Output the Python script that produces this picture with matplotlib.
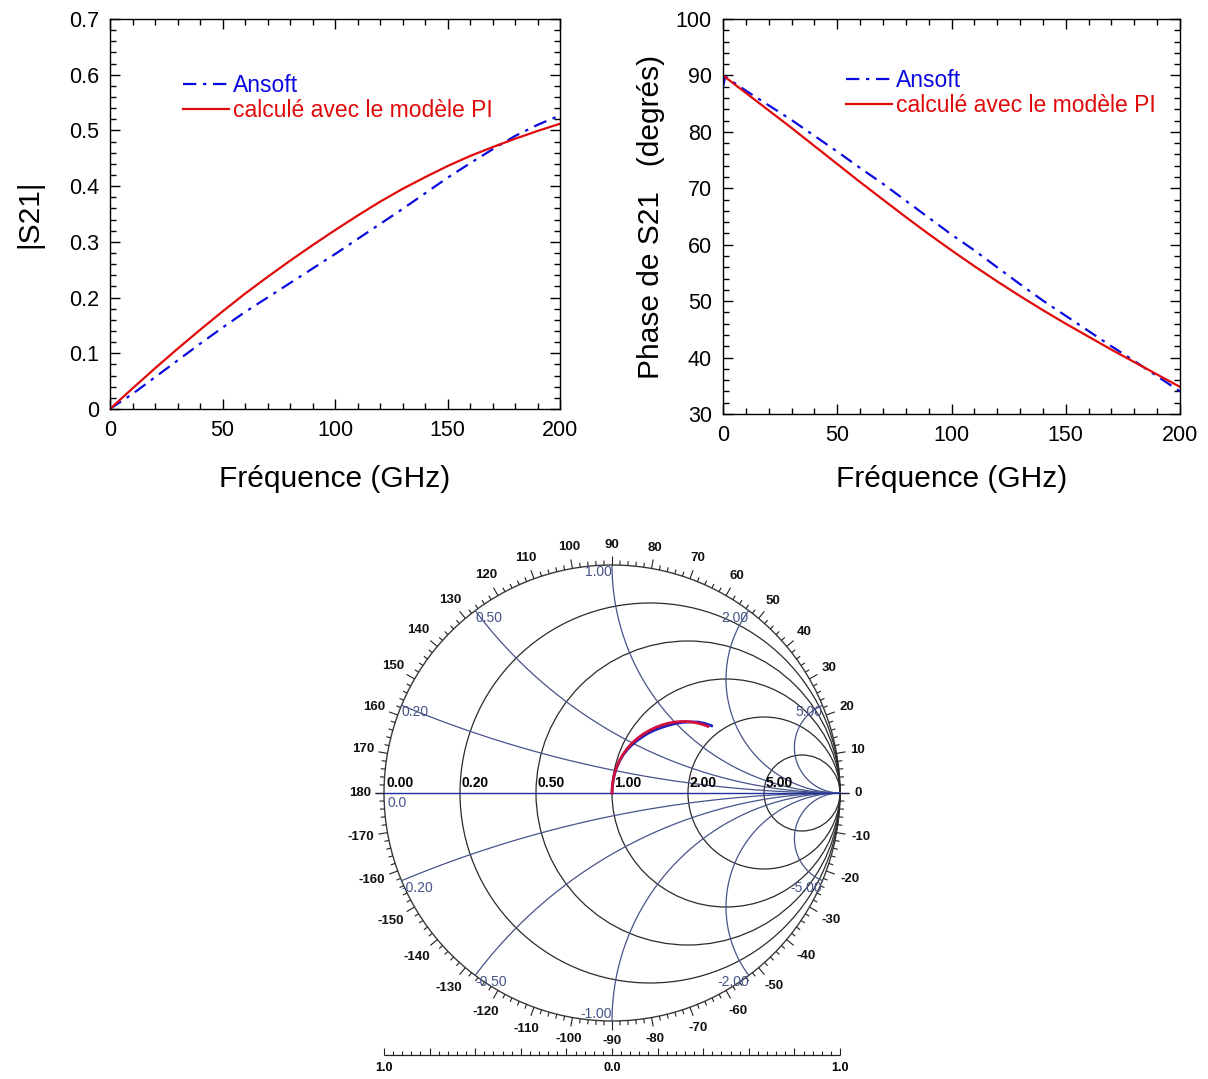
import numpy as np
import matplotlib.pyplot as plt
from matplotlib.patches import Circle
from matplotlib.collections import LineCollection
from matplotlib.ticker import MultipleLocator, FormatStrFormatter

plt.rcParams['font.family'] = ['Liberation Sans', 'DejaVu Sans']

# Données
freq = [0, 10, 20, 30, 40, 50, 60, 70, 80, 90, 100,
        110, 120, 130, 140, 150, 160, 170, 180, 190, 200]
freq_ansoft = [0, 1, 10, 20, 30, 40, 50, 60, 70, 80, 90, 100,
               110, 120, 130, 140, 150, 160, 170, 180, 190, 200]

mag_pi = [0, 0.037, 0.073, 0.108, 0.142, 0.175, 0.207, 0.237, 0.266, 0.294, 0.321,
          0.347, 0.372, 0.395, 0.416, 0.436, 0.454, 0.470, 0.485, 0.499, 0.512]
mag_ansoft = [0, 0.003, 0.027, 0.057, 0.087, 0.117, 0.146, 0.174, 0.200, 0.226, 0.252, 0.278,
              0.305, 0.332, 0.359, 0.387, 0.415, 0.441, 0.466, 0.490, 0.510, 0.527]

phase_pi = [90.0, 86.9, 83.8, 80.7, 77.5, 74.3, 71.1, 68.0, 64.9, 61.9, 59.0,
            56.2, 53.5, 50.9, 48.4, 46.0, 43.7, 41.4, 39.2, 37.0, 34.8]
phase_ansoft = [88.0, 89.8, 87.3, 84.7, 82.1, 79.3, 76.5, 73.6, 70.8, 67.8, 64.8, 61.8,
                59.0, 56.0, 53.0, 50.1, 47.4, 44.7, 42.0, 39.4, 36.7, 34.0]

label_ansoft = 'Ansoft'
label_pi = 'calculé avec le modèle PI'

# Abaque de Smith
r_values = [0.2, 0.5, 1.0, 2.0, 5.0]
r_labels = ['0.20', '0.50', '1.00', '2.00', '5.00']
x_values = [0.2, 0.5, 1.0, 2.0, 5.0, -0.2, -0.5, -1.0, -2.0, -5.0]
x_labels = ['0.20', '0.50', '1.00', '2.00', '5.00',
            '-0.20', '-0.50', '-1.00', '-2.00', '-5.00']
x_label_align = [('left', 'top'), ('left', 'top'), ('right', 'top'), ('right', 'top'), ('right', 'top'),
                 ('left', 'top'), ('left', 'top'), ('right', 'bottom'), ('right', 'top'), ('right', 'top')]
angle_labels = [-170, -160, -150, -140, -130, -120, -110, -100, -90, -80, -70, -60, -50,
                -40, -30, -20, -10, 0, 10, 20, 30, 40, 50, 60, 70, 80, 90, 100, 110,
                120, 130, 140, 150, 160, 170, 180]
scale_labels = ['1.0', '0.0', '1.0']

blue = '#0a0ae0'
red = '#e10a0a'
grid_r = '#2b2b2b'
grid_x = '#465489'
axis_blue = '#1f2f9f'

W, H = 1208, 1079
fig = plt.figure(figsize=(W / 100, H / 100), dpi=100)


def px_axes(x0, y0, x1, y1):
    return [x0 / W, 1 - y1 / H, (x1 - x0) / W, (y1 - y0) / H]


def style(ax):
    ax.tick_params(which='both', direction='in', top=True, right=True,
                   labelsize=15.5, width=1)
    ax.tick_params(which='major', length=7, pad=8)
    ax.tick_params(which='minor', length=4)
    ax.xaxis.set_major_locator(MultipleLocator(50))
    ax.xaxis.set_minor_locator(MultipleLocator(10))
    ax.set_xlim(0, 200)
    for s in ax.spines.values():
        s.set_linewidth(1)


dashdot = (0, (6, 3, 1.5, 3))

# |S21|
ax1 = fig.add_axes(px_axes(110, 19, 560, 409))
ax1.plot(freq_ansoft, mag_ansoft, color=blue, lw=1.6, linestyle=dashdot, label=label_ansoft)
ax1.plot(freq, mag_pi, color=red, lw=1.6, label=label_pi)
style(ax1)
ax1.set_ylim(0, 0.7)
ax1.yaxis.set_major_locator(MultipleLocator(0.1))
ax1.yaxis.set_minor_locator(MultipleLocator(0.02))
ax1.yaxis.set_major_formatter(FormatStrFormatter('%g'))
ax1.set_xlabel('Fréquence (GHz)', fontsize=21.5, labelpad=17)
ax1.set_ylabel('|S21|', fontsize=21.5, labelpad=18)
leg1 = ax1.legend(loc='upper left', bbox_to_anchor=(0.162, 0.858), frameon=False,
                  fontsize=16.5, handlelength=2.0, handletextpad=0.2,
                  labelspacing=0.08, borderpad=0, borderaxespad=0)
for t, c in zip(leg1.get_texts(), [blue, red]):
    t.set_color(c)

# Phase de S21
ax2 = fig.add_axes(px_axes(723, 19, 1180, 414))
ax2.plot(freq_ansoft, phase_ansoft, color=blue, lw=1.6, linestyle=dashdot, label=label_ansoft)
ax2.plot(freq, phase_pi, color=red, lw=1.6, label=label_pi)
style(ax2)
ax2.set_ylim(30, 100)
ax2.yaxis.set_major_locator(MultipleLocator(10))
ax2.yaxis.set_minor_locator(MultipleLocator(2))
ax2.set_xlabel('Fréquence (GHz)', fontsize=21.5, labelpad=13.5)
ax2.set_ylabel('Phase de S21   (degrés)', fontsize=21.5, labelpad=8)
leg2 = ax2.legend(loc='upper left', bbox_to_anchor=(0.269, 0.873), frameon=False,
                  fontsize=16.5, handlelength=2.0, handletextpad=0.2,
                  labelspacing=0.08, borderpad=0, borderaxespad=0)
for t, c in zip(leg2.get_texts(), [blue, red]):
    t.set_color(c)

# Abaque de Smith (centre 612,793 ; rayon 228 px)
R = 228
ax3 = fig.add_axes([(612 - 1.3 * R) / W, 0, 2.6 * R / W, 579 / H])
ax3.set_xlim(-1.3, 1.3)
ax3.set_ylim((793 - 1079) / R, (793 - 500) / R)
ax3.axis('off')

ax3.add_patch(Circle((0, 0), 1, fill=False, ec='#3a3a3a', lw=1))
for r in r_values:
    ax3.add_patch(Circle((r / (1 + r), 0), 1 / (1 + r), fill=False, ec=grid_r, lw=0.9))

rr = np.concatenate([[0], np.logspace(-3, 4, 800)])
for xv in x_values:
    g = (rr + 1j * xv - 1) / (rr + 1j * xv + 1)
    ax3.plot(g.real, g.imag, color=grid_x, lw=0.9)
ax3.hlines(0, -1.04, 1.04, color=axis_blue, lw=1)

# graduations angulaires
segs = []
for d in range(-180, 180, 2):
    a = np.deg2rad(d)
    L = 0.04 if d % 10 == 0 else 0.02
    segs.append([(np.cos(a), np.sin(a)), ((1 + L) * np.cos(a), (1 + L) * np.sin(a))])
ax3.add_collection(LineCollection(segs, colors='#222222', linewidths=0.8))

for d in angle_labels:
    a = np.deg2rad(d)
    s = str(d)
    rl = 1.065 + 0.013 * len(s) * abs(np.cos(a)) + 0.022 * abs(np.sin(a))
    ax3.text(rl * np.cos(a), rl * np.sin(a), s, ha='center', va='center',
             fontsize=9.5, fontweight='bold', color='#111111')

# étiquettes de résistance
ax3.text(-0.99, 0.012, '0.00', ha='left', va='bottom', fontsize=10, fontweight='bold')
for r, lab in zip(r_values, r_labels):
    ax3.text((r - 1) / (r + 1) + 0.008, 0.012, lab, ha='left', va='bottom',
             fontsize=10, fontweight='bold')
ax3.text(-0.985, -0.012, '0.0', ha='left', va='top', fontsize=10, color=grid_x)

# étiquettes de réactance
for xv, lab, (ha, va) in zip(x_values, x_labels, x_label_align):
    g = (1j * xv - 1) / (1j * xv + 1)
    ax3.text(g.real, g.imag, lab, ha=ha, va=va, fontsize=10, color=grid_x)

# échelle horizontale
yb = (793 - 1055) / R
ax3.hlines(yb, -1, 1, color='#222222', lw=0.9)
ticks = np.linspace(-1, 1, 51)
for i, t in enumerate(ticks):
    h = 0.03 if i % 5 == 0 else 0.017
    ax3.vlines(t, yb, yb + h, color='#222222', lw=0.8)
for t, lab in zip([-1, 0, 1], scale_labels):
    ax3.text(t, yb - 0.03, lab, ha='center', va='top', fontsize=9, fontweight='bold')

# courbes S21 sur l'abaque
g_ansoft = np.array(mag_ansoft) * np.exp(1j * np.deg2rad(phase_ansoft))
g_pi = np.array(mag_pi) * np.exp(1j * np.deg2rad(phase_pi))
ax3.plot(g_ansoft.real, g_ansoft.imag, color='#2020c0', lw=2)
ax3.plot(g_pi.real, g_pi.imag, color='#d0103a', lw=2)

fig.savefig('out.png', dpi=100)
